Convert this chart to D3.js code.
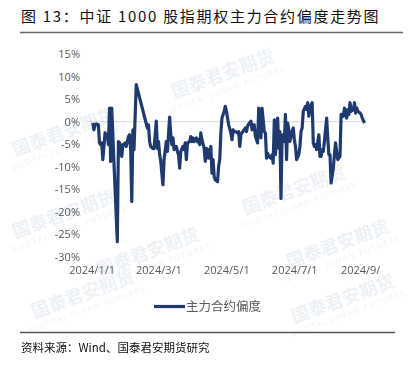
<!DOCTYPE html>
<meta charset="utf-8">
<style>
    html, body {
        margin: 0;
        padding: 0;
        background: #fff;
    }
    svg text {
        font-family: "Open Sans", "Liberation Sans", sans-serif;
    }
    .cjk {
        font-family: "Noto Sans CJK SC", sans-serif !important;
    }
</style>
<div id="chart"></div>
<script src="https://d3js.org/d3.v7.min.js"></script>
<script>
    // series (deviation, %)
    const dates = [
        "2024-01-02","2024-01-03","2024-01-04","2024-01-05","2024-01-07","2024-01-08","2024-01-09","2024-01-10","2024-01-11","2024-01-13",
        "2024-01-14","2024-01-15","2024-01-16","2024-01-17","2024-01-18","2024-01-19","2024-01-21","2024-01-24","2024-01-25","2024-01-26",
        "2024-01-28","2024-01-29","2024-01-30","2024-01-31","2024-02-01","2024-02-03","2024-02-04","2024-02-05","2024-02-06","2024-02-07",
        "2024-02-08","2024-02-10","2024-02-20","2024-02-21","2024-02-22","2024-02-23","2024-02-25","2024-02-26","2024-02-28","2024-02-29",
        "2024-03-01","2024-03-02","2024-03-03","2024-03-05","2024-03-06","2024-03-08","2024-03-09","2024-03-11","2024-03-12","2024-03-13",
        "2024-03-14","2024-03-15","2024-03-17","2024-03-18","2024-03-19","2024-03-20","2024-03-21","2024-03-23","2024-03-24","2024-03-25",
        "2024-03-26","2024-03-27","2024-03-29","2024-03-30","2024-03-31","2024-04-01","2024-04-02","2024-04-04","2024-04-05","2024-04-06",
        "2024-04-07","2024-04-08","2024-04-09","2024-04-11","2024-04-12","2024-04-13","2024-04-14","2024-04-15","2024-04-17","2024-04-18",
        "2024-04-19","2024-04-20","2024-04-21","2024-04-23","2024-04-24","2024-04-25","2024-04-26","2024-04-27","2024-04-29","2024-04-30",
        "2024-05-01","2024-05-02","2024-05-03","2024-05-05","2024-05-06","2024-05-07","2024-05-08","2024-05-09","2024-05-11","2024-05-12",
        "2024-05-13","2024-05-14","2024-05-15","2024-05-17","2024-05-18","2024-05-19","2024-05-20","2024-05-21","2024-05-23","2024-05-24",
        "2024-05-25","2024-05-26","2024-05-27","2024-05-29","2024-05-30","2024-05-31","2024-06-01","2024-06-02","2024-06-04","2024-06-05",
        "2024-06-06","2024-06-07","2024-06-08","2024-06-10","2024-06-11","2024-06-12","2024-06-13","2024-06-14","2024-06-16","2024-06-17",
        "2024-06-18","2024-06-19","2024-06-20","2024-06-22","2024-06-23","2024-06-24","2024-06-25","2024-06-26","2024-06-27","2024-06-29",
        "2024-06-30","2024-07-01","2024-07-02","2024-07-03","2024-07-05","2024-07-06","2024-07-07","2024-07-08","2024-07-09","2024-07-11",
        "2024-07-12","2024-07-13","2024-07-14","2024-07-15","2024-07-17","2024-07-18","2024-07-19","2024-07-20","2024-07-21","2024-07-23",
        "2024-07-24","2024-07-25","2024-07-26","2024-07-27","2024-07-28","2024-07-30","2024-07-31","2024-08-01","2024-08-02","2024-08-03",
        "2024-08-05","2024-08-06","2024-08-07","2024-08-08","2024-08-09","2024-08-11","2024-08-12","2024-08-13","2024-08-14","2024-08-15",
        "2024-08-17","2024-08-18","2024-08-19","2024-08-20","2024-08-21","2024-08-23","2024-08-24","2024-08-25","2024-08-26","2024-08-27",
        "2024-08-29","2024-08-30","2024-08-31","2024-09-02"
    ];
    const skew = [
        -0.3,-1.8,-0.7,-0.5,-0.7,-4.7,-5.1,-4.7,-8.4,-2.5,
        -3.6,-2.9,-5.1,3.0,-8.8,3.0,-9.2,-26.6,-4.4,-4.7,
        -7.7,-5.1,-5.1,-4.7,-5.5,-3.3,-2.9,-6.2,-17.7,-1.8,
        -6.2,8.2,-1.4,-0.7,-4.4,-5.5,-6.0,-6.0,0.1,-5.9,
        -4.4,-7.3,-8.8,-14.0,-8.4,-4.4,-6.6,1.0,-2.9,-5.1,
        -3.6,-6.2,-5.5,-6.6,-7.3,-10.3,-6.6,-5.5,-6.2,-4.7,
        -8.4,-4.7,-4.4,-3.3,-4.4,-3.6,-4.4,-3.6,-4.4,-4.0,
        -5.1,-2.5,-4.0,-5.9,-8.8,-5.9,-6.2,-8.1,-5.5,-11.4,
        -8.4,-12.2,-12.9,-13.3,-9.9,-8.4,-2.5,0.8,2.3,3.4,
        2.3,0.8,-0.7,-2.5,-4.0,-1.8,-2.2,-2.2,-2.5,-2.2,
        -5.5,-2.9,-2.5,-1.8,-1.4,-2.2,-1.0,-0.5,0.1,-1.8,
        -0.7,-0.7,-3.3,-4.7,3.0,0.1,-3.6,3.0,-2.2,-2.5,
        -8.1,-7.0,-7.7,-8.1,-7.3,-9.2,0.4,-7.3,0.8,-5.9,
        -2.2,-17.0,-2.9,-4.4,1.6,-8.4,-0.3,-1.8,-4.4,-2.2,
        -1.4,-4.0,-5.5,-8.4,-7.3,-5.5,-2.2,-1.4,2.3,3.4,
        2.7,4.2,1.2,3.0,4.2,-4.7,-5.5,-5.1,-6.2,-2.9,
        -7.7,-7.7,-6.2,-6.6,-4.4,0.8,-3.6,-7.3,-7.3,-13.6,
        -10.3,-7.3,-4.7,-6.6,-8.4,-7.7,1.6,1.6,1.2,3.0,
        0.8,2.7,1.6,4.2,2.3,2.7,4.2,1.9,3.0,2.3,
        1.9,1.6,0.8,-0.3
    ];
    const yTicks = [15, 10, 5, 0, -5, -10, -15, -20, -25, -30];
    const xTickDates = ["2024-01-01", "2024-03-01", "2024-05-01", "2024-07-01", "2024-09-01"];
    const xTickLabels = ["2024/1/1", "2024/3/1", "2024/5/1", "2024/7/1", "2024/9/"];
    const seriesName = "主力合约偏度";

    const width = 419, height = 374;
    const parse = d3.timeParse("%Y-%m-%d");
    const data = dates.map((d, i) => ({date: parse(d), value: skew[i]}));

    const svg = d3.select("#chart").append("svg")
        .attr("width", width)
        .attr("height", height);

    // faint watermarks, kept inside the frame
    const marks = [[225, 80], [66, 138], [296, 196], [66, 220], [150, 258], [340, 250], [85, 300], [345, 305]];
    const wm = svg.append("g").attr("fill", "#dde5ef").attr("opacity", 0.55);
    marks.forEach(([mx, my]) => {
        const g = wm.append("g").attr("transform", `translate(${mx},${my}) rotate(-20)`);
        g.append("text").attr("class", "cjk")
            .attr("text-anchor", "middle")
            .attr("font-size", 18)
            .attr("font-weight", "bold")
            .text("国泰君安期货");
        g.append("text")
            .attr("text-anchor", "middle")
            .attr("y", 12)
            .attr("font-size", 8)
            .attr("letter-spacing", 1.5)
            .text("GUOTAI JUNAN FUTURES");
    });

    // title
    svg.append("text").attr("class", "cjk")
        .attr("x", 21)
        .attr("y", 22)
        .attr("font-size", 15)
        .attr("letter-spacing", 1.7)
        .attr("fill", "#111")
        .text("图 13：中证 1000 股指期权主力合约偏度走势图");
    svg.append("line")
        .attr("x1", 20).attr("x2", 403)
        .attr("y1", 32.5).attr("y2", 32.5)
        .attr("stroke", "#666").attr("stroke-width", 1.3);

    const x = d3.scaleTime()
        .domain([parse("2024-01-01"), parse("2024-09-02")])
        .range([91.7, 364.5]);
    const y = d3.scaleLinear()
        .domain([-30, 15])
        .range([257, 54]);

    // y axis labels
    const yAxis = svg.append("g")
        .attr("transform", "translate(80,0)")
        .call(d3.axisLeft(y).tickValues(yTicks).tickSize(0).tickPadding(0).tickFormat(d => d + "%"));
    yAxis.select(".domain").remove();
    yAxis.selectAll("text")
        .attr("font-family", "Open Sans")
        .attr("font-size", 11)
        .attr("fill", "#595959");

    // zero line
    svg.append("line")
        .attr("x1", 89).attr("x2", 366)
        .attr("y1", y(0)).attr("y2", y(0))
        .attr("stroke", "#d9d9d9").attr("stroke-width", 1);

    // x axis labels
    const xAxis = svg.append("g")
        .attr("transform", "translate(0,266)")
        .call(d3.axisBottom(x)
            .tickValues(xTickDates.map(parse))
            .tickSize(0)
            .tickPadding(0)
            .tickFormat((d, i) => xTickLabels[i]));
    xAxis.select(".domain").remove();
    xAxis.selectAll("text")
        .attr("font-family", "Open Sans")
        .attr("font-size", 11)
        .attr("fill", "#595959")
        .attr("text-anchor", "start")
        .attr("dx", -23);

    // series
    const line = d3.line()
        .x(d => x(d.date))
        .y(d => y(d.value));
    svg.append("path")
        .datum(data)
        .attr("fill", "none")
        .attr("stroke", "#1f3a6e")
        .attr("stroke-width", 3.2)
        .attr("stroke-linejoin", "round")
        .attr("d", line);

    // legend
    svg.append("line")
        .attr("x1", 154).attr("x2", 185)
        .attr("y1", 306.5).attr("y2", 306.5)
        .attr("stroke", "#1f3a6e").attr("stroke-width", 3.2);
    svg.append("text").attr("class", "cjk")
        .attr("x", 186)
        .attr("y", 311)
        .attr("font-size", 12.5)
        .attr("fill", "#595959")
        .text(seriesName);

    // source
    svg.append("line")
        .attr("x1", 20).attr("x2", 395)
        .attr("y1", 332.5).attr("y2", 332.5)
        .attr("stroke", "#555").attr("stroke-width", 1.3);
    svg.append("text").attr("class", "cjk")
        .attr("x", 21)
        .attr("y", 352)
        .attr("font-size", 11.5)
        .attr("fill", "#111")
        .text("资料来源：Wind、国泰君安期货研究");
</script>
